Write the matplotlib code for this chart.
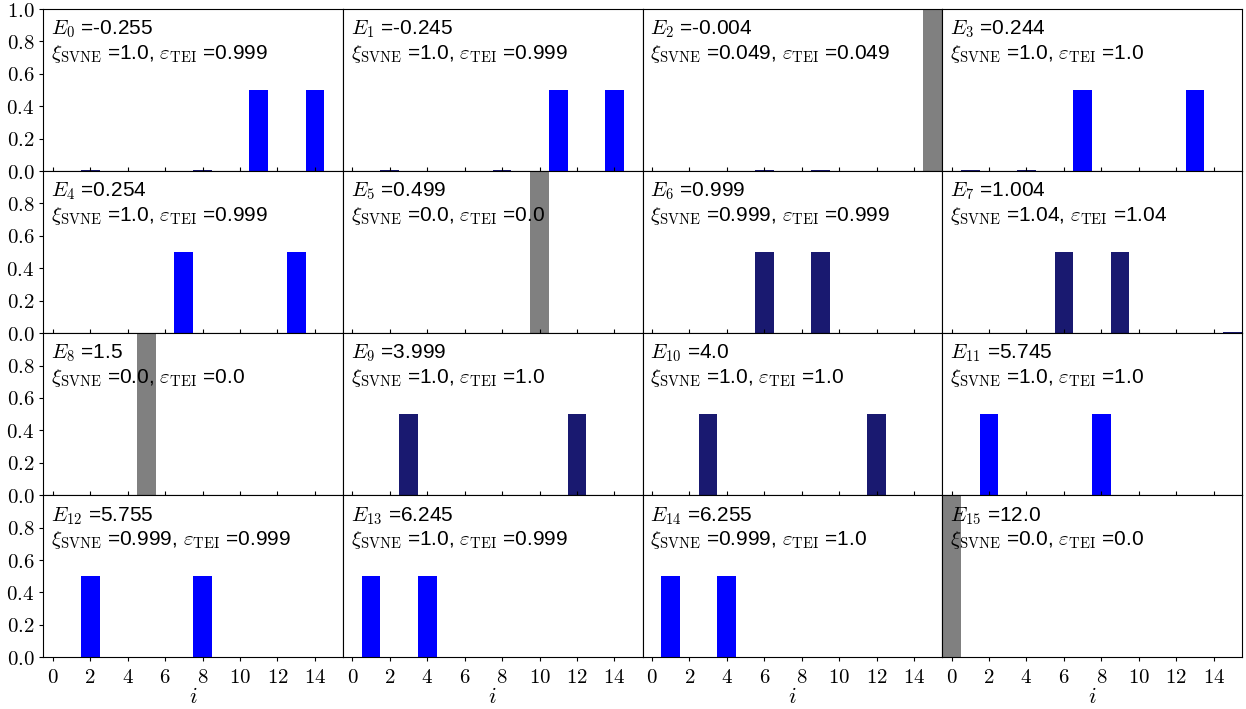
import matplotlib
matplotlib.use("Agg")
import matplotlib.pyplot as plt
import numpy as np

plt.rcParams["font.family"] = ["Liberation Sans", "DejaVu Sans"]
plt.rcParams["mathtext.fontset"] = "cm"

# eigenstates: energy, entanglement measures
energies = [-0.255, -0.245, -0.004, 0.244, 0.254, 0.499, 0.999, 1.004,
            1.5, 3.999, 4.0, 5.745, 5.755, 6.245, 6.255, 12.0]
xi_svne = [1.0, 1.0, 0.049, 1.0, 1.0, 0.0, 0.999, 1.04,
           0.0, 1.0, 1.0, 1.0, 0.999, 1.0, 0.999, 0.0]
eps_tei = [0.999, 0.999, 0.049, 1.0, 0.999, 0.0, 0.999, 1.04,
           0.0, 1.0, 1.0, 1.0, 0.999, 0.999, 1.0, 0.0]

# main basis-state occupations per eigenstate
peak_sites = [(11, 14), (11, 14), (15,), (7, 13), (7, 13), (10,), (6, 9), (6, 9),
              (5,), (3, 12), (3, 12), (2, 8), (2, 8), (1, 4), (1, 4), (0,)]
peak_probs = [0.5, 0.5, 1.0, 0.5, 0.5, 1.0, 0.5, 0.5,
              1.0, 0.5, 0.5, 0.5, 0.5, 0.5, 0.5, 1.0]
peak_colors = ["blue", "blue", "gray", "blue", "blue", "gray", "midnightblue", "midnightblue",
               "gray", "midnightblue", "midnightblue", "blue", "blue", "blue", "blue", "gray"]
# small leftover occupations
small_sites = [(2, 8), (2, 8), (6, 9), (1, 4), (), (), (), (15,),
               (), (), (), (), (11, 14), (7, 13), (7, 13), ()]
small_prob = 0.005

n_sites = 16
sites = np.arange(n_sites)

fig, axes = plt.subplots(4, 4, figsize=(12.46, 7.09), dpi=100)
fig.subplots_adjust(left=0.0348, right=0.9966, top=0.9873, bottom=0.0729,
                    wspace=0, hspace=0)

for k, ax in enumerate(axes.flat):
    heights = np.zeros(n_sites)
    colors = ["midnightblue"] * n_sites
    for s in small_sites[k]:
        heights[s] = small_prob
    for s in peak_sites[k]:
        heights[s] = peak_probs[k]
        colors[s] = peak_colors[k]
    ax.bar(sites, heights, width=1.0, color=colors)

    ax.text(0.026, 0.94,
            f"$E_{{{k}}}$ ={energies[k]}\n"
            f"$\\xi_{{\\rm SVNE}}$ ={xi_svne[k]}, $\\varepsilon_{{\\rm TEI}}$ ={eps_tei[k]}",
            transform=ax.transAxes, ha="left", va="top", fontsize=15,
            linespacing=1.15)

    row, col = divmod(k, 4)
    ax.set_xlim(-0.5, 15.5)
    ax.set_ylim(0, 1.0)
    ax.set_xticks(np.arange(0, 15, 2))
    ax.tick_params(axis="x", direction="in" if row < 3 else "out", length=3, pad=5)
    ax.tick_params(axis="y", direction="out", length=3)
    if row < 3:
        ax.set_xticklabels([])
    else:
        ax.set_xticklabels([f"${t}$" for t in range(0, 15, 2)], fontsize=15)
        ax.set_xlabel("$i$", fontsize=16, labelpad=0)
    if col > 0:
        ax.set_yticks([])
    else:
        ticks = [0.0, 0.2, 0.4, 0.6, 0.8, 1.0] if row == 0 else [0.0, 0.2, 0.4, 0.6, 0.8]
        ax.set_yticks(ticks)
        ax.set_yticklabels([f"${t:.1f}$" for t in ticks], fontsize=15)

fig.savefig("out.png", dpi=100)
